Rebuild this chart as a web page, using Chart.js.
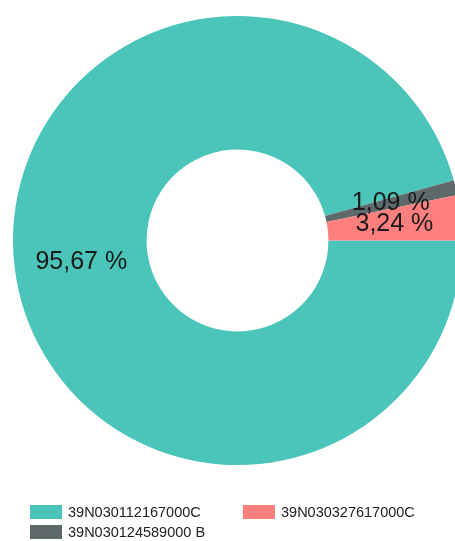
<!DOCTYPE html>
<html>
<head>
<meta charset="utf-8">
<script src="https://cdn.jsdelivr.net/npm/chart.js@4/dist/chart.umd.min.js"></script>
<style>
  html, body { margin: 0; padding: 0; background: #fff; overflow: hidden; width: 455px; height: 541px; }
  #wrap { position: absolute; left: 0; top: 0; width: 475px; height: 481px; }
  #legend { position: absolute; left: 0; top: 0; width: 455px; height: 541px; font-family: "Liberation Sans", Arial, sans-serif; font-size: 14.5px; color: #222; }
  .item { position: absolute; height: 14px; line-height: 14px; white-space: nowrap; }
  .box { display: inline-block; width: 32px; height: 14px; vertical-align: top; margin-right: 6px; }
</style>
</head>
<body>
<div id="wrap"><canvas id="grafico"></canvas></div>
<div id="legend"></div>
<script>
// drawing order, clockwise from 3 o'clock
const codici = ["39N030112167000C", "39N030124589000 B", "39N030327617000C"];
const percentuali = [95.67, 1.09, 3.24];
const colori = ["#4bc5b9", "#5e6a6a", "#ff7f7f"];
// order of the entries in the legend
const ordineLegenda = [0, 2, 1];

const etichette = {
  id: "etichette",
  afterDatasetsDraw(chart) {
    const ctx = chart.ctx;
    const meta = chart.getDatasetMeta(0);
    ctx.save();
    ctx.font = "25px 'Liberation Sans', Arial, sans-serif";
    ctx.fillStyle = "#1a1a1a";
    ctx.textAlign = "center";
    ctx.textBaseline = "middle";
    meta.data.forEach((arc, i) => {
      const p = arc.tooltipPosition();
      const txt = percentuali[i].toFixed(2).replace(".", ",") + " %";
      ctx.fillText(txt, p.x, p.y);
    });
    ctx.restore();
  }
};

new Chart(document.getElementById("grafico"), {
  type: "doughnut",
  data: {
    labels: codici,
    datasets: [{
      data: percentuali,
      backgroundColor: colori,
      borderWidth: 0,
      hoverOffset: 0
    }]
  },
  options: {
    responsive: true,
    maintainAspectRatio: false,
    animation: false,
    rotation: 90,
    radius: 224.5,
    cutout: "40.5%",
    plugins: {
      legend: { display: false },
      tooltip: { enabled: false }
    }
  },
  plugins: [etichette]
});

const legenda = document.getElementById("legend");
const posizioni = [[30, 505], [243, 505], [30, 525]];
ordineLegenda.forEach((idx, n) => {
  const div = document.createElement("div");
  div.className = "item";
  div.style.left = posizioni[n][0] + "px";
  div.style.top = posizioni[n][1] + "px";
  div.innerHTML = `<span class="box" style="background:${colori[idx]}"></span>${codici[idx]}`;
  legenda.appendChild(div);
});
</script>
</body>
</html>
